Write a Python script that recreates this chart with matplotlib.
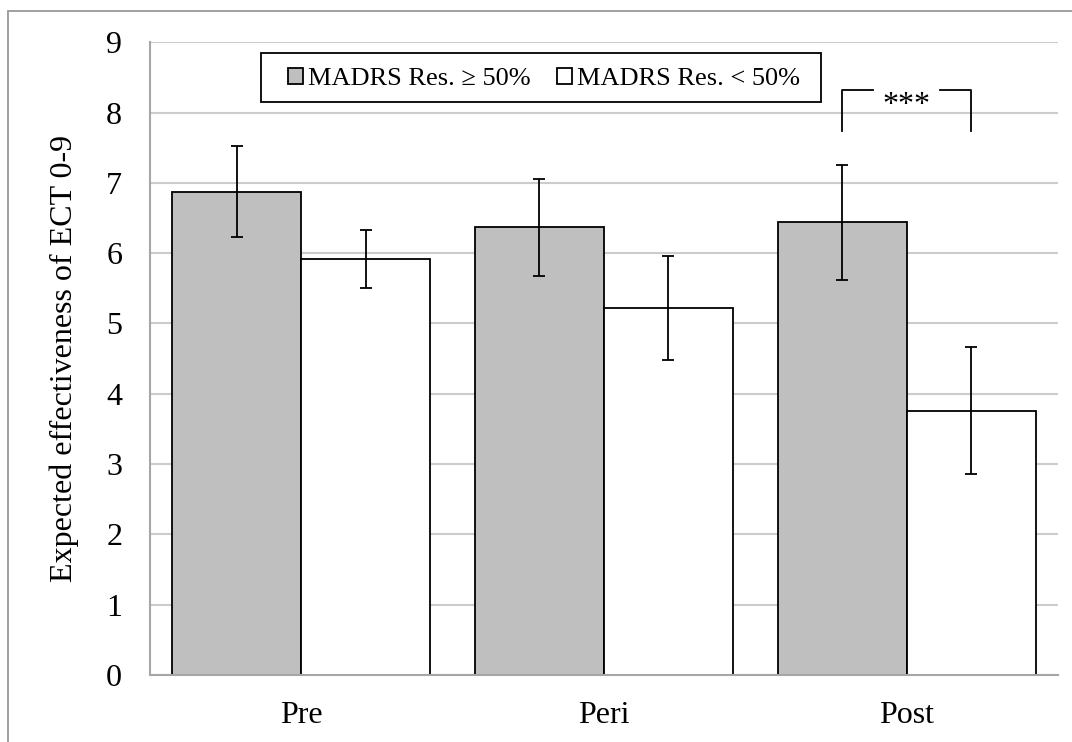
import numpy as np
import matplotlib.pyplot as plt
import matplotlib.patches as mpatches

plt.rcParams['font.family'] = ['Liberation Serif', 'DejaVu Serif']

# ---------- data ----------
groups = ['Pre', 'Peri', 'Post']
labels = ['MADRS Res. \u2265 50%', 'MADRS Res. < 50%']
resp = [6.875, 6.37, 6.44]
resp_err = [0.645, 0.69, 0.82]
nonresp = [5.92, 5.22, 3.76]
nonresp_err = [0.41, 0.74, 0.90]

sig_group = 2
sig_text = '***'
sig_low, sig_high = 7.74, 8.32

# ---------- plot ----------
fig = plt.figure(figsize=(10.72, 7.42), dpi=100)
ax = fig.add_axes([0.1399, 0.0903, 0.847, 0.8527])

x = np.arange(len(groups))
w = 0.426

ax.set_axisbelow(True)
ax.yaxis.grid(True, color='#cccccc', linewidth=1.5)

ekw = dict(ecolor='black', elinewidth=1.3, capthick=1.3, capsize=4.3)
ax.bar(x - w/2, resp, w, color='#bfbfbf', edgecolor='black', linewidth=1.3,
       yerr=resp_err, error_kw=ekw, label=labels[0])
ax.bar(x + w/2, nonresp, w, color='white', edgecolor='black', linewidth=1.3,
       yerr=nonresp_err, error_kw=ekw, label=labels[1])

# significance bracket
xl = sig_group - w/2
xr = sig_group + w/2
gap = 0.11
ax.plot([xl, xl, sig_group - gap], [sig_low, sig_high, sig_high], color='black', lw=1.3)
ax.plot([sig_group + gap, xr, xr], [sig_high, sig_high, sig_low], color='black', lw=1.3)
ax.text(sig_group, sig_high - 0.33, sig_text, ha='center', va='baseline', fontsize=23)

ax.set_xlim(-0.5, 2.5)
ax.set_ylim(0, 9)
ax.set_yticks(range(10))
ax.set_xticks(x)
ax.set_xticklabels(groups)
ax.tick_params(axis='both', length=0, labelsize=23)
ax.tick_params(axis='y', pad=20)
ax.tick_params(axis='x', pad=19)
ax.set_ylabel('Expected effectiveness of ECT 0-9', fontsize=23)
ax.yaxis.set_label_coords(-0.078, 0.5)

for s in ['top', 'right']:
    ax.spines[s].set_visible(False)
ax.spines['left'].set_color('#a6a6a6')
ax.spines['bottom'].set_color('#a6a6a6')
ax.spines['left'].set_linewidth(1.5)
ax.spines['bottom'].set_linewidth(1.5)

leg = ax.legend(ncol=2, loc='center left', bbox_to_anchor=(288/1072, 1 - 79/742),
                bbox_transform=fig.transFigure, borderaxespad=0, borderpad=0,
                fontsize=19, frameon=False,
                handlelength=0.57, handleheight=0.57, handletextpad=0.19,
                columnspacing=1.0)

# legend frame
fig.patches.append(mpatches.Rectangle((261/1072, 1 - 102/742), 560/1072, 49/742,
                                      transform=fig.transFigure, fill=False,
                                      edgecolor='black', linewidth=1.3))

# chart area border
fig.patches.append(mpatches.Rectangle((8/1072, -0.05), 1.1, 1.05 - 11/742,
                                      transform=fig.transFigure, fill=False,
                                      edgecolor='#999999', linewidth=1.3))

plt.savefig('out.png', dpi=100)
